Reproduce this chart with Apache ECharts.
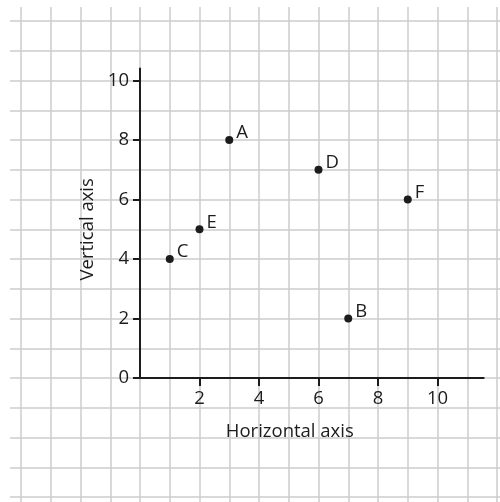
<!DOCTYPE html>
<html>
<head>
<meta charset="utf-8">
<script src="https://cdn.jsdelivr.net/npm/echarts@6/dist/echarts.min.js"></script>
<style>
html,body{margin:0;padding:0;background:#fff;}
#chart{width:500px;height:502px;}
</style>
</head>
<body>
<div id="chart"></div>
<script>
// Data
const pointNames = ['A', 'B', 'C', 'D', 'E', 'F'];
const xValues = [3, 7, 1, 6, 2, 9];
const yValues = [8, 2, 4, 7, 5, 6];
const xTickLabels = [2, 4, 6, 8, 10];
const yTickLabels = [0, 2, 4, 6, 8, 10];
const xAxisTitle = 'Horizontal axis';
const yAxisTitle = 'Vertical axis';

const FONT = 'Open Sans';
const FS = 18.5;
const INK = '#1e1b1c';
const U = 29.75;          // pixels per unit
const OX = 140, OY = 378; // origin pixel
const XMAX = 11.55, YMAX = 10.4;

const chart = echarts.init(document.getElementById('chart'), null, {renderer: 'canvas'});

const option = {
  animation: false,
  backgroundColor: '#fff',
  grid: [
    { // background squared paper
      left: OX - 5 * U, top: OY - 13 * U, width: 18 * U, height: 18 * U,
      containLabel: false, outerBoundsMode: 'none', z: 0
    },
    { // data area
      left: OX, top: OY - YMAX * U, width: XMAX * U, height: YMAX * U,
      containLabel: false, outerBoundsMode: 'none'
    }
  ],
  xAxis: [
    {
      gridIndex: 0, type: 'value', min: -5, max: 13, interval: 1,
      axisLine: {show: false}, axisTick: {show: false}, axisLabel: {show: false},
      splitLine: {show: true, lineStyle: {color: '#cdcdcd', width: 1.5}}
    },
    {
      gridIndex: 1, type: 'value', min: 0, max: XMAX, interval: 2,
      name: xAxisTitle, nameLocation: 'middle', nameGap: 44,
      nameTextStyle: {fontFamily: FONT, fontSize: FS, color: INK, padding: [0, 44, 0, 0]},
      axisLine: {show: true, onZero: false, lineStyle: {color: INK, width: 2}},
      axisTick: {show: true, inside: false, length: 8, lineStyle: {color: INK, width: 2}, customValues: xTickLabels},
      axisLabel: {show: true, margin: 11, fontFamily: FONT, fontSize: FS, color: INK, customValues: xTickLabels},
      splitLine: {show: false}
    }
  ],
  yAxis: [
    {
      gridIndex: 0, type: 'value', min: -5, max: 13, interval: 1,
      axisLine: {show: false}, axisTick: {show: false}, axisLabel: {show: false},
      splitLine: {show: true, lineStyle: {color: '#cdcdcd', width: 1.5}}
    },
    {
      gridIndex: 1, type: 'value', min: 0, max: YMAX, interval: 2,
      name: yAxisTitle, nameLocation: 'middle', nameGap: 32,
      nameTextStyle: {fontFamily: FONT, fontSize: FS, color: INK, padding: [0, 12, 0, 0]},
      axisLine: {show: true, onZero: false, lineStyle: {color: INK, width: 2}},
      axisTick: {show: true, inside: false, length: 7, lineStyle: {color: INK, width: 2}, customValues: yTickLabels},
      axisLabel: {show: true, margin: 11, fontFamily: FONT, fontSize: FS, color: INK, customValues: yTickLabels},
      splitLine: {show: false}
    }
  ],
  graphic: [
    {type: 'rect', shape: {x: 0, y: 0, width: 10, height: 502}, style: {fill: '#fff'}, z: 1},
    {type: 'rect', shape: {x: 0, y: 0, width: 500, height: 7}, style: {fill: '#fff'}, z: 1}
  ],
  series: [
    {
      type: 'scatter', xAxisIndex: 1, yAxisIndex: 1,
      symbol: 'circle', symbolSize: 8,
      itemStyle: {color: INK, opacity: 1},
      label: {
        show: true, position: 'right', distance: 3, offset: [0, -7],
        formatter: p => p.name,
        fontFamily: FONT, fontSize: FS, color: INK
      },
      data: pointNames.map((n, i) => ({name: n, value: [xValues[i], yValues[i]]})),
      z: 5
    }
  ]
};
chart.setOption(option);
</script>
</body>
</html>
